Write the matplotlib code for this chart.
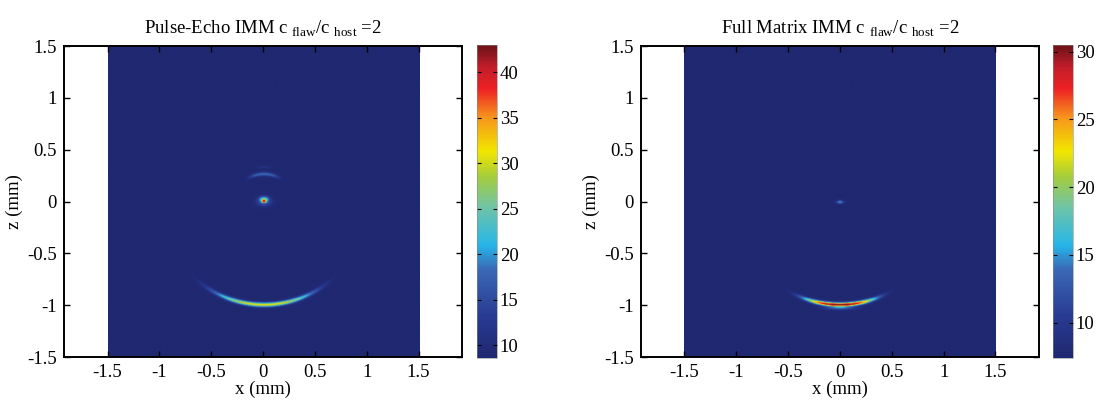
import matplotlib
matplotlib.use("Agg")
import matplotlib.pyplot as plt
from matplotlib.colors import LinearSegmentedColormap
from matplotlib.ticker import FuncFormatter
import numpy as np

plt.rcParams['font.family'] = ['Liberation Serif', 'DejaVu Serif']
plt.rcParams['mathtext.fontset'] = 'custom'
plt.rcParams['mathtext.rm'] = 'Liberation Serif'
plt.rcParams['axes.unicode_minus'] = False

# chart texts and ranges
titles = [r'Pulse-Echo IMM c $_{\mathrm{flaw}}$/c $_{\mathrm{host}}$ =2',
          r'Full Matrix IMM c $_{\mathrm{flaw}}$/c $_{\mathrm{host}}$ =2']
clims = [(8.6, 43.0), (7.4, 30.5)]
cbar_ticks = [[10, 15, 20, 25, 30, 35, 40], [10, 15, 20, 25, 30]]
axis_ticks = [-1.5, -1, -0.5, 0, 0.5, 1, 1.5]
img_extent = [-1.5, 1.5, -1.5, 1.5]

# features
# circular backwall arc: radius (mm), peak value, angular half width (deg), thickness (mm)
arc_radius = [1.0, 1.0]
arc_peak = [31.0, 30.5]
arc_width_deg = [29.0, 20.0]
arc_thick = [0.015, 0.014]
# small spots: (x, z, peak, sigma_x, sigma_z)
spots_left = [(0.0, 0.0, 43.0, 0.022, 0.014),
              (0.0, 0.012, 29.0, 0.035, 0.022),
              (0.0, -0.005, 18.0, 0.05, 0.03)]
spots_right = [(0.0, -0.01, 15.0, 0.025, 0.012),
               (0.0, -1.025, 16.0, 0.1, 0.014)]
# arches: (z at top, curvature, half width, peak, thickness)
arches_left = [(0.26, 1.6, 0.12, 18.0, 0.013),
               (0.325, 0.0, 0.05, 11.5, 0.008)]
arches_right = []

# printed "jet" colours
cmap_pos = [0.0, 0.13, 0.28, 0.36, 0.48, 0.58, 0.66, 0.77, 0.86, 0.93, 1.0]
cmap_cols = ['#1f2870', '#283a92', '#3a68b3', '#27b5e9', '#6fc4a8', '#a5cd3b',
             '#f2e600', '#f7941d', '#ed2124', '#c21d2a', '#6c1217']
cmap = LinearSegmentedColormap.from_list('printjet', list(zip(cmap_pos, cmap_cols)))

n = 401
gx = np.linspace(-1.5, 1.5, n)
X, Z = np.meshgrid(gx, gx)


def build(k, spots, arches):
    lo = clims[k][0]
    field = np.zeros_like(X)
    r = np.hypot(X, Z)
    phi = np.degrees(np.arctan2(X, -Z))
    arc = (arc_peak[k] - lo) * np.exp(-0.5 * ((r - arc_radius[k]) / arc_thick[k]) ** 2) \
        * np.exp(-(np.abs(phi) / arc_width_deg[k]) ** 3)
    field = np.maximum(field, arc)
    for (sx, sz, pk, wx, wz) in spots:
        field = np.maximum(field, (pk - lo) * np.exp(-0.5 * (((X - sx) / wx) ** 2 + ((Z - sz) / wz) ** 2)))
    for (z0, curv, hw, pk, th) in arches:
        zc = z0 - curv * X ** 2
        a = (pk - lo) * np.exp(-0.5 * ((Z - zc) / th) ** 2) * np.exp(-0.5 * (X / hw) ** 4)
        field = np.maximum(field, a)
    return lo + field


images = [build(0, spots_left, arches_left), build(1, spots_right, arches_right)]

fig = plt.figure(figsize=(11.03, 4.04), dpi=100)
ax_pos = [[0.058, 0.116, 0.361, 0.770], [0.581, 0.116, 0.361, 0.770]]
cb_pos = [[0.4325, 0.114, 0.018, 0.775], [0.9547, 0.114, 0.018, 0.775]]

fmt = FuncFormatter(lambda v, p: '%g' % v)
for k in range(2):
    ax = fig.add_axes(ax_pos[k])
    im = ax.imshow(images[k], extent=img_extent, origin='lower', cmap=cmap,
                   vmin=clims[k][0], vmax=clims[k][1], aspect='auto',
                   interpolation='bilinear')
    ax.set_xlim(-1.92, 1.92)
    ax.set_ylim(-1.5, 1.5)
    ax.set_xticks(axis_ticks)
    ax.set_yticks(axis_ticks)
    ax.xaxis.set_major_formatter(fmt)
    ax.yaxis.set_major_formatter(fmt)
    ax.tick_params(direction='in', top=True, right=True, labelsize=13.5, length=4, width=1, pad=5)
    for s in ax.spines.values():
        s.set_linewidth(1.4)
    ax.set_xlabel('x (mm)', fontsize=13.5, labelpad=0)
    ax.set_ylabel('z (mm)', fontsize=13.5, labelpad=3)
    ax.set_title(titles[k], fontsize=13.5, pad=9)

    cax = fig.add_axes(cb_pos[k])
    cb = fig.colorbar(im, cax=cax)
    cb.set_ticks(cbar_ticks[k])
    cb.ax.yaxis.set_major_formatter(fmt)
    cb.ax.tick_params(direction='in', left=True, right=True, labelsize=13.5, length=3, width=0.8, pad=2)
    cb.outline.set_linewidth(0.4)
    cb.outline.set_edgecolor('#888888')

fig.savefig('out.png', dpi=100)
